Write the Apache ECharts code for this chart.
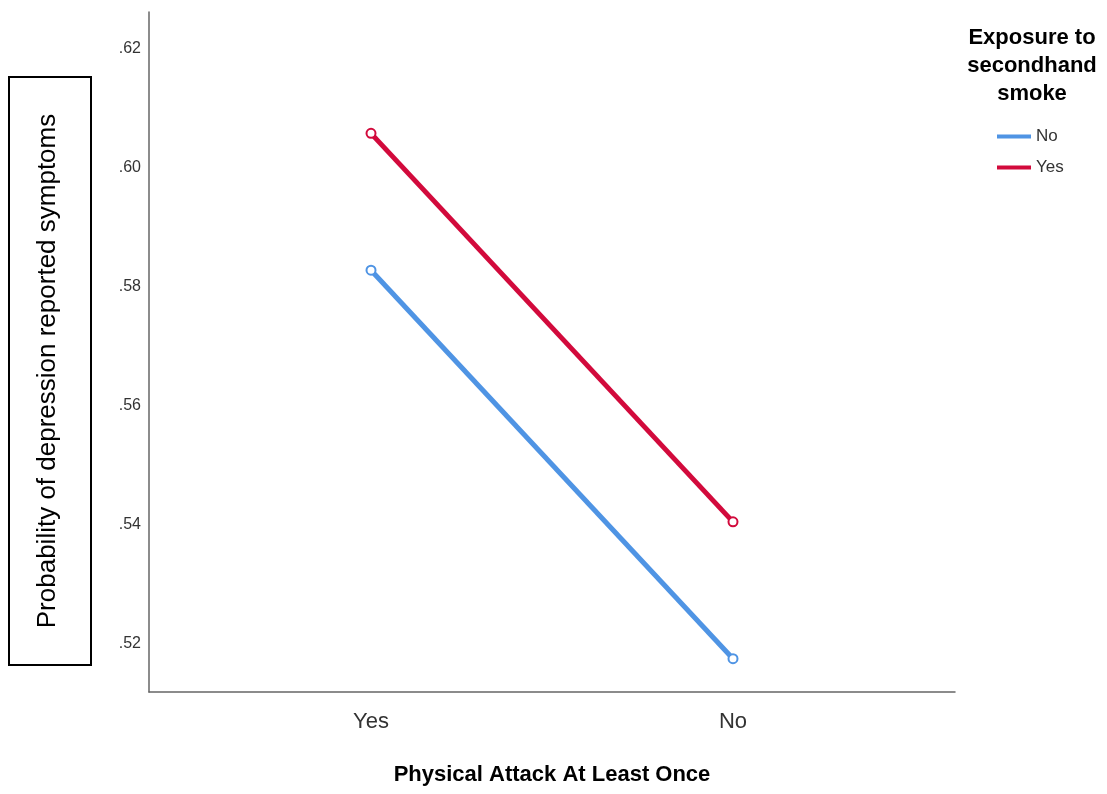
<!DOCTYPE html>
<html>
<head>
<meta charset="utf-8">
<script src="https://cdn.jsdelivr.net/npm/echarts@6/dist/echarts.min.js"></script>
<style>
  html, body { margin: 0; padding: 0; background: #fff; }
  #chart { width: 1107px; height: 794px; }
</style>
</head>
<body>
<div id="chart"></div>
<script>
const categories = ['Yes', 'No'];
const seriesNames = ['No', 'Yes'];
const noValues = [0.5827, 0.5174];
const yesValues = [0.6057, 0.5404];
const yTicks = [0.52, 0.54, 0.56, 0.58, 0.60, 0.62];
const colors = ['#4F94E4', '#D20A3C'];
const yTitle = 'Probability of depression reported symptoms';

const SANS = '"Liberation Sans", Arial, sans-serif';

const chart = echarts.init(document.getElementById('chart'), null, { renderer: 'canvas' });

function toPairs(vals) {
  return vals.map((v, i) => [i, v]);
}

const option = {
  animation: false,
  backgroundColor: '#fff',
  title: {
    text: 'Exposure to\nsecondhand\nsmoke',
    left: 1032,
    top: 24,
    textAlign: 'center',
    padding: 0,
    textStyle: {
      fontFamily: SANS,
      fontSize: 22,
      fontWeight: 'bold',
      lineHeight: 28,
      color: '#000'
    }
  },
  legend: {
    orient: 'vertical',
    left: 997,
    top: 128,
    padding: 0,
    itemWidth: 34,
    itemHeight: 4,
    itemGap: 14,
    icon: 'rect',
    data: seriesNames,
    textStyle: { fontFamily: SANS, fontSize: 17, color: '#333' }
  },
  graphic: [
    {
      type: 'rect',
      shape: { x: 9, y: 77, width: 82, height: 588 },
      style: { fill: null, stroke: '#000', lineWidth: 2 }
    },
    {
      type: 'text',
      x: 48,
      y: 371,
      rotation: Math.PI / 2,
      style: {
        text: yTitle,
        fontFamily: SANS,
        fontSize: 26,
        fill: '#000',
        align: 'center',
        verticalAlign: 'middle'
      }
    }
  ],
  grid: { left: 149, right: 152, top: 12, bottom: 102 },
  xAxis: {
    type: 'value',
    min: -0.6133,
    max: 1.6133,
    name: 'Physical Attack At Least Once',
    nameLocation: 'middle',
    nameGap: 72,
    nameTextStyle: { fontFamily: SANS, fontSize: 22, fontWeight: 'bold', color: '#000' },
    axisLine: { show: true, onZero: false, lineStyle: { color: '#666', width: 1.5 } },
    axisTick: { show: false },
    splitLine: { show: false },
    axisLabel: {
      customValues: [0, 1],
      formatter: v => categories[Math.round(v)],
      margin: 19,
      fontFamily: SANS,
      fontSize: 22,
      color: '#333'
    }
  },
  yAxis: {
    type: 'value',
    min: 0.5118,
    max: 0.6261,
    axisLine: { show: true, onZero: false, lineStyle: { color: '#666', width: 1.5 } },
    axisTick: { show: false },
    splitLine: { show: false },
    axisLabel: {
      customValues: yTicks,
      formatter: v => v.toFixed(2).replace(/^0/, ''),
      margin: 8,
      fontFamily: SANS,
      fontSize: 16,
      color: '#333'
    }
  },
  series: [
    {
      name: seriesNames[0],
      type: 'line',
      data: toPairs(noValues),
      symbol: 'emptyCircle',
      symbolSize: 9,
      color: colors[0],
      itemStyle: { color: colors[0], borderWidth: 1.5 },
      lineStyle: { color: colors[0], width: 5 }
    },
    {
      name: seriesNames[1],
      type: 'line',
      data: toPairs(yesValues),
      symbol: 'emptyCircle',
      symbolSize: 9,
      color: colors[1],
      itemStyle: { color: colors[1], borderWidth: 1.5 },
      lineStyle: { color: colors[1], width: 5 }
    }
  ]
};

chart.setOption(option);
</script>
</body>
</html>
